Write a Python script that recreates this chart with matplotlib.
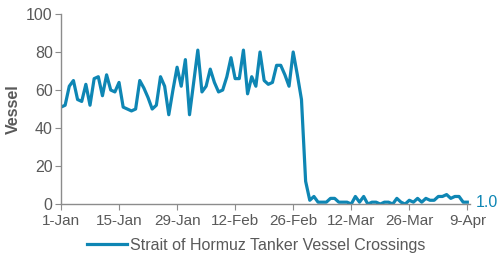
import matplotlib
matplotlib.use("Agg")
import matplotlib.pyplot as plt
import numpy as np

# Daily tanker crossings, 1-Jan to 9-Apr
crossings = [
    51, 52, 62, 65, 55, 54, 63, 52, 66, 67,
    57, 68, 60, 59, 64, 51, 50, 49, 50, 65,
    61, 56, 50, 52, 67, 62, 47, 60, 72, 62,
    76, 47, 64, 81, 59, 62, 71, 64, 59, 60,
    67, 77, 66, 66, 81, 58, 67, 62, 80, 65,
    63, 64, 73, 73, 68, 62, 80, 68, 55, 12,
    2, 4, 1, 1, 1, 3, 3, 1, 1, 1,
    0, 4, 1, 4, 0, 1, 1, 0, 1, 1,
    0, 3, 1, 0, 2, 1, 3, 1, 3, 2,
    2, 4, 4, 5, 3, 4, 4, 1, 1,
]
tick_days = [0, 14, 28, 42, 56, 70, 84, 98]
tick_labels = ["1-Jan", "15-Jan", "29-Jan", "12-Feb", "26-Feb", "12-Mar", "26-Mar", "9-Apr"]
last_label = "1.0"

blue = "#0E86B4"
gray = "#595959"
axis_gray = "#8C8C8C"

plt.rcParams["font.family"] = ["Liberation Sans", "DejaVu Sans"]

fig = plt.figure(figsize=(5.04, 2.64), dpi=100)
ax = fig.add_axes([0.121, 0.227, 0.812, 0.72])

days = np.arange(len(crossings))
line, = ax.plot(days, crossings, color=blue, linewidth=2.3,
                label="Strait of Hormuz Tanker Vessel Crossings")

ax.set_xlim(0, 98.7)
ax.set_ylim(0, 100)
ax.set_yticks([0, 20, 40, 60, 80, 100])
ax.set_xticks(tick_days)
ax.set_xticklabels(tick_labels)

for side in ["top", "right"]:
    ax.spines[side].set_visible(False)
for side in ["left", "bottom"]:
    ax.spines[side].set_color(axis_gray)
    ax.spines[side].set_linewidth(1.0)

ax.tick_params(axis="y", direction="out", length=4, color=axis_gray,
               labelcolor=gray, labelsize=11.5, pad=2)
ax.tick_params(axis="x", direction="out", length=4, color=axis_gray,
               labelcolor=gray, labelsize=11, pad=3)

ax.set_ylabel("Vessel", color=gray, fontsize=11.5, fontweight="bold", labelpad=4)

ax.annotate(last_label, xy=(days[-1], crossings[-1]), xytext=(6, 0),
            textcoords="offset points", color=blue, fontsize=11.5,
            va="center", ha="left", annotation_clip=False)

fig.legend(handles=[line], loc="center", bbox_to_anchor=(0.508, 0.07),
           frameon=False, fontsize=11.5, labelcolor=gray,
           handlelength=2.5, handletextpad=0.2)

fig.savefig("out.png", dpi=100)
